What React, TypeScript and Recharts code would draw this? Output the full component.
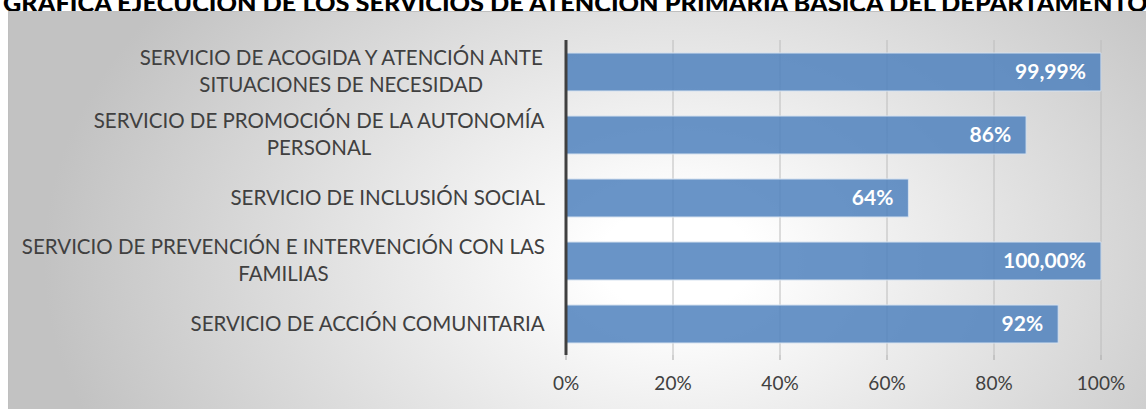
import { BarChart, Bar, XAxis, YAxis, CartesianGrid, LabelList } from 'recharts';

const services = [
  'SERVICIO DE ACOGIDA Y ATENCIÓN ANTE|SITUACIONES DE NECESIDAD',
  'SERVICIO DE PROMOCIÓN DE LA AUTONOMÍA|PERSONAL',
  'SERVICIO DE INCLUSIÓN SOCIAL',
  'SERVICIO DE PREVENCIÓN E INTERVENCIÓN CON LAS|FAMILIAS',
  'SERVICIO DE ACCIÓN COMUNITARIA',
];
const ejecucion = [99.99, 86, 64, 100, 92];
const etiquetas = ['99,99%', '86%', '64%', '100,00%', '92%'];
const xTicks = [0, 20, 40, 60, 80, 100];

const data = services.map((s, i) => ({ name: s, value: ejecucion[i], label: etiquetas[i] }));

const FONT = 'Lato, "Open Sans", sans-serif';
const LABEL_SIZE = 20.5;

let ctx: CanvasRenderingContext2D | null = null;
function measure(text: string) {
  if (!ctx) ctx = document.createElement('canvas').getContext('2d');
  if (!ctx) return text.length * 10;
  ctx.font = `${LABEL_SIZE}px Lato`;
  return ctx.measureText(text).width;
}

function CategoryTick({ x, y, payload }: { x?: number; y?: number; payload?: { value: string } }) {
  const lines = (payload?.value ?? '').split('|');
  const maxW = Math.max(...lines.map(measure));
  const right = (x ?? 0) - 21;
  const cx = right - maxW / 2;
  const lh = 27;
  const top = (y ?? 0) - ((lines.length - 1) * lh) / 2;
  return (
    <text fill="#404040" fontSize={LABEL_SIZE} fontFamily={FONT} textAnchor="middle">
      {lines.map((l, i) => (
        <tspan key={i} x={cx} y={top + i * lh} dy="0.35em">
          {l}
        </tspan>
      ))}
    </text>
  );
}

export default function App() {
  return (
    <div
      style={{
        position: 'absolute',
        left: 0,
        top: 0,
        width: 1146,
        height: 409,
        overflow: 'hidden',
        background: '#fff',
      }}
    >
      <div
        style={{
          position: 'absolute',
          left: 3,
          top: -13,
          whiteSpace: 'nowrap',
          fontFamily: FONT,
          fontWeight: 900,
          fontSize: 25.3,
          color: '#000',
        }}
      >
        GRÁFICA EJECUCIÓN DE LOS SERVICIOS DE ATENCIÓN PRIMARIA BÁSICA DEL DEPARTAMENTO
      </div>
      <div
        style={{
          position: 'absolute',
          left: 8,
          top: 11,
          width: 1150,
          height: 400,
          border: '1px solid #bfbfbf',
          background:
            'radial-gradient(ellipse 55% 110% at 58% 62%, #ffffff 0%, #ffffff 12%, #c2c2c2 100%)',
        }}
      >
        <BarChart
          width={1137}
          height={397}
          layout="vertical"
          data={data}
          margin={{ top: 28, right: 45, left: 0, bottom: 0 }}
          barSize={38}
        >
          <CartesianGrid horizontal={false} stroke="#bcbcbc" />
          <XAxis
            type="number"
            domain={[0, 100]}
            ticks={xTicks}
            tickFormatter={(v) => `${v}%`}
            axisLine={false}
            tickLine={{ stroke: '#a6a6a6' }}
            tickSize={5}
            tickMargin={17}
            height={54}
            tick={{ fill: '#404040', fontSize: 19, fontFamily: FONT }}
          />
          <YAxis
            type="category"
            dataKey="name"
            width={557}
            axisLine={{ stroke: '#404040', strokeWidth: 3 }}
            tickLine={false}
            tickSize={0}
            tickMargin={0}
            tick={<CategoryTick />}
            interval={0}
          />
          <Bar
            dataKey="value"
            fill="#4F81BD"
            fillOpacity={0.85}
            stroke="#d5e1ef"
            strokeWidth={1}
            isAnimationActive={false}
          >
            <LabelList
              dataKey="label"
              position="insideRight"
              offset={15}
              fill="#ffffff"
              fontSize={21}
              fontWeight="bold"
              fontFamily={FONT}
            />
          </Bar>
        </BarChart>
      </div>
    </div>
  );
}
